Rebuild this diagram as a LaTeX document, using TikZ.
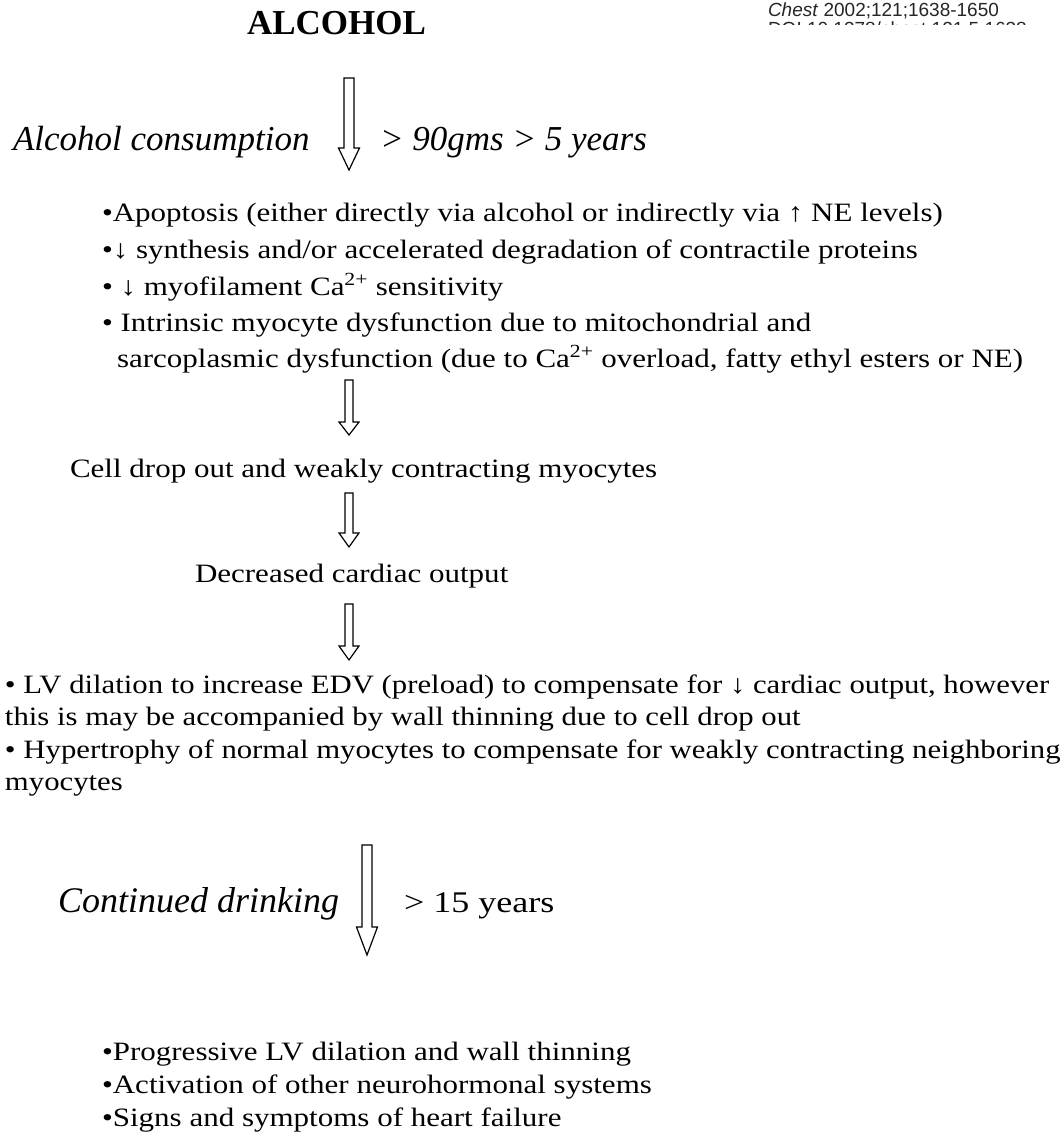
\documentclass[tikz,border=0pt]{standalone}
\usepackage{fontspec}
\setmainfont{Liberation Serif}
\newfontfamily\sansf{Liberation Sans}
\usetikzlibrary{calc}
\newcommand{\hs}[1]{\scalebox{1.17}[1]{#1}}
\newcommand{\hp}[1]{\scalebox{1.16}[1]{#1}}
\newcommand{\blockarrow}[5]{%
  \draw[barrow] ($(#1)+(-#3,0)$) -- ($(#1)+(#3,0)$) -- ($(#2)+(#3,-#5)$) -- ($(#2)+(#4,-#5)$) -- (#2) -- ($(#2)+(-#4,-#5)$) -- ($(#2)+(-#3,-#5)$) -- cycle;}
\tikzset{
  base/.style={anchor=base west, inner sep=0pt, outer sep=0pt, text=black},
  body/.style={base, font=\fontsize{26.5}{30}\selectfont},
  ital/.style={base, font=\fontsize{35}{40}\selectfont\itshape},
  title/.style={base, font=\fontsize{35}{40}\selectfont\bfseries},
  ref/.style={base, font=\fontsize{19}{22}\selectfont\sansf, text=black!85},
  barrow/.style={draw=black, line width=1.2pt, fill=white, line join=miter}
}
\begin{document}
\begin{tikzpicture}[x=1pt, y=-1pt]
\useasboundingbox[fill=white] (0,0) rectangle (1064,1137);
% reference header
\node[ref] (chest) at (768,17) {\textit{Chest} 2002;121;1638-1650};
\begin{scope}
  \clip (700,0) rectangle (1064,25);
  \node[ref] (doi) at (768,36) {DOI 10.1378/chest.121.5.1638};
\end{scope}
% title
\node[title] (alc) at (247,35) {ALCOHOL};
% first arrow and its labels
\node[ital] (cons) at (13,150) {Alcohol consumption};
\node[ital] (dose) at (380,150) {> 90gms > 5 years};
% list 1
\node[body] (l1) at (102,221) {\hs{•Apoptosis (either directly via alcohol or indirectly via ↑ NE levels)}};
\node[body] (l2) at (102,258) {\hs{•↓ synthesis and/or accelerated degradation of contractile proteins}};
\node[body] (l3) at (102,295) {\hs{• ↓ myofilament Ca\textsuperscript{2+} sensitivity}};
\node[body] (l4) at (102,331.5) {\hs{• Intrinsic myocyte dysfunction due to mitochondrial and}};
\node[body] (l5) at (117,367) {\hs{sarcoplasmic dysfunction (due to Ca\textsuperscript{2+} overload, fatty ethyl esters or NE)}};
% middle steps
\node[body] (cell) at (70,477) {\hs{Cell drop out and weakly contracting myocytes}};
\node[body] (dco) at (195,582) {\hs{Decreased cardiac output}};
% paragraph
\node[body] (p1) at (5,693) {\hp{• LV dilation to increase EDV (preload) to compensate for ↓ cardiac output, however}};
\node[body] (p2) at (5,725) {\hp{this is may be accompanied by wall thinning due to cell drop out}};
\node[body] (p3) at (5,758) {\hp{• Hypertrophy of normal myocytes to compensate for weakly contracting neighboring}};
\node[body] (p4) at (5,790) {\hp{myocytes}};
% continued drinking
\node[base, font=\fontsize{36}{40}\selectfont\itshape] (cont) at (58,912) {Continued drinking};
\node[base, font=\fontsize{30}{36}\selectfont] (yrs) at (404,912) {\scalebox{1.2}[1]{> 15 years}};
% list 3
\node[body] (q1) at (102,1060) {\hs{•Progressive LV dilation and wall thinning}};
\node[body] (q2) at (102,1093) {\hs{•Activation of other neurohormonal systems}};
\node[body] (q3) at (102,1126) {\hs{•Signs and symptoms of heart failure}};
% arrows
\coordinate (a1s) at (349,78);  \coordinate (a1e) at (349,170);
\coordinate (a2s) at (349,380); \coordinate (a2e) at (349,435);
\coordinate (a3s) at (349,493); \coordinate (a3e) at (349,547);
\coordinate (a4s) at (349,604); \coordinate (a4e) at (349,660);
\coordinate (a5s) at (367,845); \coordinate (a5e) at (367,955);
\blockarrow{a1s}{a1e}{5}{10.5}{22}
\blockarrow{a2s}{a2e}{4}{10}{13}
\blockarrow{a3s}{a3e}{4}{10}{14}
\blockarrow{a4s}{a4e}{4}{10}{14}
\blockarrow{a5s}{a5e}{5}{10.5}{28}
\end{tikzpicture}
\end{document}
